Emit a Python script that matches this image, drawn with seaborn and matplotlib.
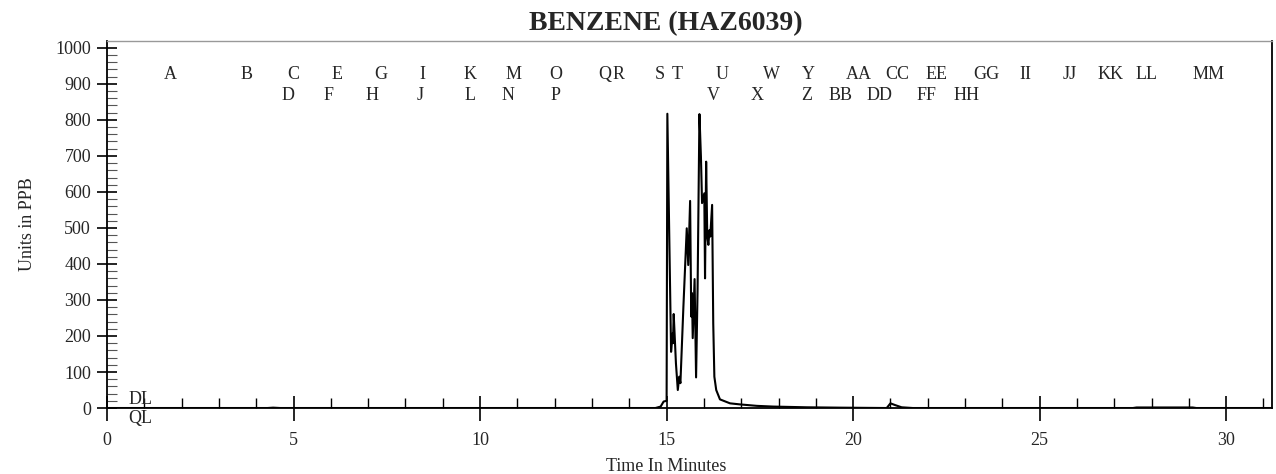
import numpy as np
import pandas as pd
import seaborn as sns
import matplotlib.pyplot as plt
from matplotlib.ticker import MultipleLocator

# trace (minutes, ppb)
time_min = [0.0, 4.3, 4.45, 4.64, 14.7, 14.84, 14.92, 15.0, 15.02, 15.12, 15.16, 15.17,
            15.19, 15.25, 15.30, 15.34, 15.37, 15.45, 15.54, 15.58, 15.63, 15.66, 15.68,
            15.70, 15.75, 15.79, 15.83, 15.88, 15.92, 15.95, 16.01, 16.03, 16.06, 16.09,
            16.12, 16.15, 16.17, 16.22, 16.25, 16.28, 16.33, 16.43, 16.70, 16.97, 17.42,
            17.86, 18.76, 19.65, 20.9, 21.0, 21.13, 21.3, 21.6, 27.5, 27.6, 29.1, 29.2, 31.2]
ppb = [0, 0, 1, 0, 0, 4, 18, 20, 817, 156, 207, 180,
       261, 124, 50, 87, 69, 281, 499, 397, 575, 254, 319,
       194, 358, 85, 328, 816, 698, 569, 596, 360, 684, 476,
       453, 494, 476, 564, 235, 87, 50, 24, 13, 10, 6,
       4, 2, 1, 0, 13, 8, 2, 0, 0, 1.5, 1.5, 0, 0]

# peak window labels
peak_names = ["A", "B", "C", "D", "E", "F", "G", "H", "I", "J", "K", "L", "M", "N",
              "O", "P", "Q", "R", "S", "T", "U", "V", "W", "X", "Y", "Z", "AA", "BB",
              "CC", "DD", "EE", "FF", "GG", "HH", "II", "JJ", "KK", "LL", "MM"]
peak_times = [1.69, 3.75, 4.99, 4.86, 6.16, 5.93, 7.35, 7.10, 8.44, 8.39, 9.73, 9.73,
              10.89, 10.76, 12.04, 12.01, 13.35, 13.72, 14.83, 15.28, 16.48, 16.25,
              17.82, 17.42, 18.80, 18.76, 20.14, 19.65, 21.17, 20.72, 22.24, 21.98,
              23.58, 23.05, 24.61, 25.82, 26.89, 27.87, 29.53]
peak_rows = [1, 1, 1, 2, 1, 2, 1, 2, 1, 2, 1, 2, 1, 2,
             1, 2, 1, 1, 1, 1, 1, 2, 1, 2, 1, 2, 1, 2,
             1, 2, 1, 2, 1, 2, 1, 1, 1, 1, 1]
row_level = {1: 925, 2: 869}

trace_df = pd.DataFrame({"time": time_min, "ppb": ppb})

sns.set_style("ticks")
plt.rcParams["font.family"] = ["Liberation Serif", "DejaVu Serif"]

fig = plt.figure(figsize=(12.76, 4.74), dpi=100)
ax = fig.add_axes([0.0839, 0.1392, 0.9130, 0.7743])

sns.lineplot(data=trace_df, x="time", y="ppb", color="black", linewidth=1.5, ax=ax, sort=False)

for name, t, row in zip(peak_names, peak_times, peak_rows):
    ax.text(t, row_level[row], name, ha="center", va="center", fontsize=13)

ax.text(0.9, 25, "DL", ha="center", va="center", fontsize=13)
ax.text(0.9, -28, "QL", ha="center", va="center", fontsize=13, clip_on=False)

ax.set_xlim(0, 31.23)
ax.set_ylim(0, 1019)
ax.xaxis.set_major_locator(MultipleLocator(5))
ax.xaxis.set_minor_locator(MultipleLocator(1))
ax.yaxis.set_major_locator(MultipleLocator(100))
ax.yaxis.set_minor_locator(MultipleLocator(20))
ax.tick_params(axis="x", which="major", direction="inout", length=18, width=1.2,
               labelsize=13, pad=8, color="black")
ax.tick_params(axis="x", which="minor", direction="in", length=7, width=1, color="black")
ax.tick_params(axis="y", which="major", direction="inout", length=15, width=1.2,
               labelsize=13, pad=4, color="black")
ax.tick_params(axis="y", which="minor", direction="in", length=7, width=0.8, color="#555555")

for side in ["left", "bottom", "right"]:
    ax.spines[side].set_color("black")
    ax.spines[side].set_linewidth(1.3)
ax.spines["top"].set_color("#999999")
ax.spines["top"].set_linewidth(1)

ax.set_xlabel("Time In Minutes", fontsize=13, labelpad=7, x=0.48)
ax.set_ylabel("Units in PPB", fontsize=13, labelpad=14)
ax.set_title("BENZENE (HAZ6039)", fontsize=20, fontweight="bold", pad=8, x=0.48)

plt.savefig("out.png", dpi=100)
